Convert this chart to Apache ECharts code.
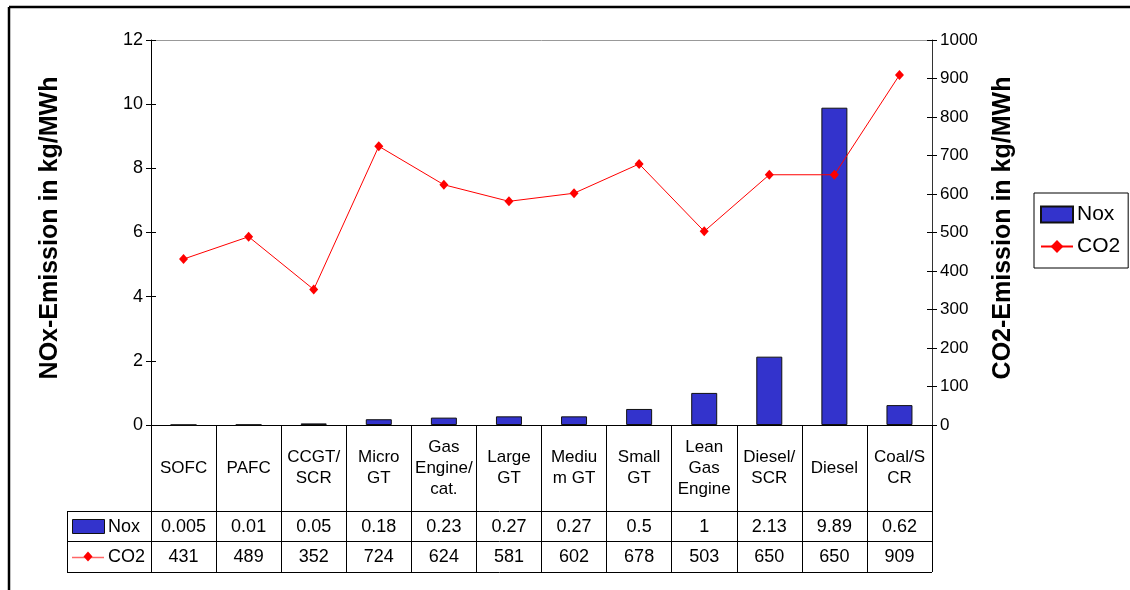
<!DOCTYPE html>
<html>
<head>
<meta charset="utf-8">
<title>NOx and CO2 emissions</title>
<script src="https://cdn.jsdelivr.net/npm/echarts@6/dist/echarts.min.js"></script>
<style>
  html, body { margin: 0; padding: 0; background: #fff; }
  #main { width: 1130px; height: 590px; }
</style>
</head>
<body>
<div id="main"></div>
<script>
// Technologies (category row of the data table)
const categories = [
  'SOFC', 'PAFC', 'CCGT/\nSCR', 'Micro\nGT', 'Gas\nEngine/\ncat.', 'Large\nGT',
  'Mediu\nm GT', 'Small\nGT', 'Lean\nGas\nEngine', 'Diesel/\nSCR', 'Diesel', 'Coal/S\nCR'
];
// NOx emission, kg/MWh (bars, left axis)
const noxValues = [0.005, 0.01, 0.05, 0.18, 0.23, 0.27, 0.27, 0.5, 1, 2.13, 9.89, 0.62];
// CO2 emission, kg/MWh (line, right axis)
const co2Values = [431, 489, 352, 724, 624, 581, 602, 678, 503, 650, 650, 909];
const seriesNames = ['Nox', 'CO2'];
const axisTitles = ['NOx-Emission in kg/MWh', 'CO2-Emission in kg/MWh'];

const FONT = '"Liberation Sans", Arial, sans-serif';
const BAR_COLOR = '#3333CC';
const LINE_COLOR = '#FF0000';

const chart = echarts.init(document.getElementById('main'), null, { renderer: 'canvas' });

const yBase = {
  type: 'value',
  splitLine: { show: false },
  axisLine: { show: true, lineStyle: { color: '#000', width: 1 } },
  axisTick: { show: true, length: 5, lineStyle: { color: '#000' } },
  axisLabel: { color: '#000', fontSize: 18, fontFamily: FONT, margin: 8, formatter: v => String(v) }
};

const option = {
  animation: false,
  backgroundColor: '#fff',
  textStyle: { fontFamily: FONT },
  grid: { left: 151, right: 198, top: 40, bottom: 165, containLabel: false },
  legend: {
    orient: 'vertical',
    left: 1034,
    top: 193,
    padding: [11, 8, 11, 6],
    itemGap: 11,
    itemWidth: 32,
    itemHeight: 16,
    borderColor: '#000',
    borderWidth: 1,
    textStyle: { color: '#000', fontSize: 21, fontFamily: FONT, padding: [0, 0, 0, -1] },
    data: [{ name: seriesNames[0], icon: 'rect' }, { name: seriesNames[1] }]
  },
  xAxis: {
    type: 'category',
    data: categories,
    boundaryGap: true,
    axisLine: { show: true, lineStyle: { color: '#000', width: 1 } },
    axisTick: { show: true, interval: 0, alignWithLabel: false, length: 147, lineStyle: { color: '#000' } },
    axisLabel: {
      interval: 0, color: '#000', fontSize: 17, fontFamily: FONT,
      lineHeight: 21, margin: 43, verticalAlign: 'middle', align: 'center'
    }
  },
  yAxis: [
    Object.assign({}, yBase, { position: 'left', min: 0, max: 12, interval: 2 }),
    Object.assign({}, yBase, { position: 'right', min: 0, max: 1000, interval: 100,
      axisLine: { show: true, lineStyle: { color: '#333', width: 1 } },
      axisLabel: Object.assign({}, yBase.axisLabel, { fontSize: 17 }) }),
    // inner halves of the crossing tick marks
    { type: 'value', position: 'left', min: 0, max: 12, interval: 2, splitLine: { show: false },
      axisLine: { show: false }, axisLabel: { show: false },
      axisTick: { show: true, inside: true, length: 5, lineStyle: { color: '#000' } } },
    { type: 'value', position: 'right', min: 0, max: 1000, interval: 100, splitLine: { show: false },
      axisLine: { show: false }, axisLabel: { show: false },
      axisTick: { show: true, inside: true, length: 5, lineStyle: { color: '#000' } } }
  ],
  series: [
    {
      name: seriesNames[0],
      type: 'bar',
      yAxisIndex: 0,
      data: noxValues,
      barWidth: 26,
      itemStyle: { color: BAR_COLOR, borderColor: '#111', borderWidth: 1 }
    },
    {
      name: seriesNames[1],
      type: 'line',
      yAxisIndex: 1,
      data: co2Values,
      symbol: 'diamond',
      symbolSize: [9, 10],
      lineStyle: { color: LINE_COLOR, width: 1 },
      itemStyle: { color: LINE_COLOR },
      z: 5
    }
  ]
};

chart.setOption(option);

// Data table and frame, laid out from the axis scales
const n = categories.length;
const xs = categories.map((c, i) => chart.convertToPixel({ xAxisIndex: 0 }, i));
const band = xs[1] - xs[0];
const left = xs[0] - band / 2;
const right = xs[n - 1] + band / 2;
const y0 = chart.convertToPixel({ yAxisIndex: 0 }, 0);
const yTop = chart.convertToPixel({ yAxisIndex: 0 }, 12);
const rowHeader = y0 + 86;
const rowNox = rowHeader + 30;
const rowCo2 = rowNox + 31;
const keyCol = left - 84;

const crisp = v => Math.round(v) + 0.5;
const line = (x1, y1, x2, y2, color, width) => ({
  type: 'line', silent: true,
  shape: { x1, y1, x2, y2 },
  style: { stroke: color || '#000', lineWidth: width || 1 }
});
const text = (x, y, str, opts) => ({
  type: 'text', silent: true, x, y,
  style: Object.assign({
    text: str, fill: '#000', font: '18px ' + FONT, align: 'center', verticalAlign: 'middle'
  }, opts || {})
});

const graphics = [];
// outer frame
graphics.push(line(9, 7, 1130, 7, '#000', 2.5));
graphics.push(line(9, 7, 9, 590, '#000', 2.5));
// top edge of plot area
graphics.push(line(left, crisp(yTop), right, crisp(yTop), '#999', 1));
// table rows
[rowHeader, rowNox, rowCo2].forEach(y => graphics.push(line(keyCol, crisp(y), right, crisp(y), '#000', 1)));
graphics.push(line(crisp(keyCol), crisp(rowHeader), crisp(keyCol), crisp(rowCo2), '#000', 1));
// row keys
const noxMid = (rowHeader + rowNox) / 2;
const co2Mid = (rowNox + rowCo2) / 2;
graphics.push({
  type: 'rect', silent: true,
  shape: { x: keyCol + 5.5, y: Math.round(noxMid - 7) + 0.5, width: 32, height: 14 },
  style: { fill: BAR_COLOR, stroke: '#111', lineWidth: 1 }
});
graphics.push(text(keyCol + 41, noxMid + 1, seriesNames[0], { align: 'left' }));
graphics.push(line(keyCol + 5, crisp(co2Mid), keyCol + 37, crisp(co2Mid), '#FF6666', 1.5));
graphics.push({
  type: 'polygon', silent: true,
  shape: { points: [[keyCol + 21, co2Mid - 5], [keyCol + 25.5, co2Mid], [keyCol + 21, co2Mid + 5], [keyCol + 16.5, co2Mid]] },
  style: { fill: LINE_COLOR }
});
graphics.push(text(keyCol + 41, co2Mid + 1, seriesNames[1], { align: 'left' }));
// row values
xs.forEach((x, i) => {
  graphics.push(text(x, noxMid + 1, String(noxValues[i])));
  graphics.push(text(x, co2Mid + 1, String(co2Values[i])));
});
// axis titles
graphics.push(text(50, 228, axisTitles[0], { font: 'bold 25px ' + FONT }));
graphics[graphics.length - 1].rotation = Math.PI / 2;
graphics.push(text(1003, 228, axisTitles[1], { font: 'bold 25px ' + FONT }));
graphics[graphics.length - 1].rotation = Math.PI / 2;

chart.setOption({ graphic: graphics });
</script>
</body>
</html>
